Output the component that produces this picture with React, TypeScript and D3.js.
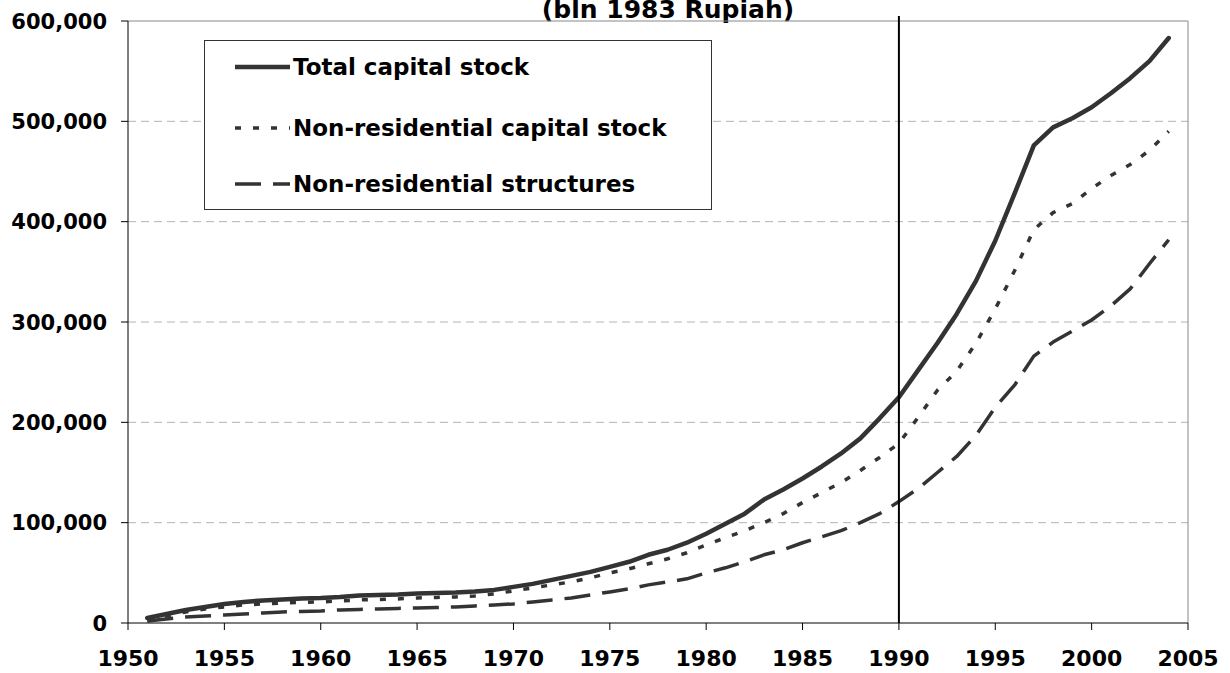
import * as d3 from 'd3'
import React from 'react'

// bln 1983 Rupiah, years 1951..2004
const years = d3.range(1951, 2005)
const totalStock = [
  5, 9, 13, 16, 19, 21, 22.5, 23.5, 24.5, 25,
  26, 27.5, 28, 28.5, 29.5, 30, 30.5, 31.5, 33, 36,
  39, 43, 47, 51, 56, 61, 68, 73, 80, 89,
  99, 109, 123, 133, 144, 156, 169, 184, 204, 225,
  252, 279, 308, 341, 381, 428, 476, 494, 503, 514,
  528, 543, 560, 583,
].map(v => v * 1000)
const nonResStock = [
  3, 7, 11, 14, 16, 18, 19, 20, 20.5, 21,
  22, 23, 23.5, 24, 25, 25.5, 26, 27, 29, 32,
  35, 38, 41, 45, 50, 54, 59, 64, 70, 78,
  85, 92, 100, 109, 120, 130, 140, 152, 165, 179,
  205, 232, 251, 279, 313, 351, 392, 409, 418, 433,
  446, 457, 471, 490,
].map(v => v * 1000)
const nonResStructures = [
  2, 4, 6, 7, 8, 9, 10, 11, 11.5, 12,
  13, 13.5, 14, 14.5, 15, 15.5, 16, 17, 18, 19,
  21, 23, 25, 28, 31, 34, 38, 41, 44, 50,
  55, 61, 68, 73, 80, 86, 92, 100, 109, 121,
  134, 150, 166, 187, 215, 237, 266, 280, 291, 302,
  316, 333, 358, 382,
].map(v => v * 1000)

const xTicks = d3.range(1950, 2006, 5)
const yTicks = [0, 100000, 200000, 300000, 400000, 500000, 600000]
const markerYear = 1990

const seriesNames = ['Total capital stock', 'Non-residential capital stock', 'Non-residential structures']
const seriesValues = [totalStock, nonResStock, nonResStructures]
const seriesDash = ['none', '6,12', '26,12']
const seriesWidth = [4.5, 3.5, 3.5]

const font = "'DejaVu Sans', Verdana, sans-serif"
const ink = '#333'

export default function App() {
  const
    W = 1230, H = 673,
    left = 128, right = 1188, top = 21, bottom = 623,
    x = d3.scaleLinear().domain([1950, 2005]).range([left, right]),
    y = d3.scaleLinear().domain([0, 600000]).range([bottom, top]),
    fmt = d3.format(','),
    line = d3.line<number>().x((_, i) => x(years[i])).y(d => y(d))

  const legendRows = [67, 128, 184]

  return (
    <svg width={W} height={H} style={{ position: 'absolute', left: 0, top: 0, background: '#fff' }} fontFamily={font}>
      <text x={668} y={18} textAnchor='middle' fontSize={25} fontWeight='bold'>(bln 1983 Rupiah)</text>

      {yTicks.slice(1, -1).map(t => (
        <line key={t} x1={left} x2={right} y1={y(t)} y2={y(t)} stroke='#b4b4b4' strokeWidth={1} strokeDasharray='8,5' />
      ))}
      <line x1={left} x2={right} y1={top} y2={top} stroke='#888' />
      <line x1={right} x2={right} y1={top} y2={bottom} stroke='#888' />

      {seriesValues.map((vals, i) => (
        <path key={i} d={line(vals) as string} fill='none' stroke={ink} strokeWidth={seriesWidth[i]}
          strokeDasharray={seriesDash[i]} strokeLinejoin='round' strokeLinecap={i === 0 ? 'round' : 'butt'} />
      ))}

      <line x1={x(markerYear)} x2={x(markerYear)} y1={16} y2={bottom} stroke='#000' strokeWidth={2} />

      <line x1={left} x2={left} y1={top} y2={bottom} stroke='#000' />
      <line x1={left} x2={right} y1={bottom} y2={bottom} stroke='#000' />
      {yTicks.map(t => (
        <g key={t}>
          <line x1={left - 7} x2={left} y1={y(t)} y2={y(t)} stroke='#000' />
          <text x={107} y={y(t)} dy='0.36em' textAnchor='end' fontSize={21} fontWeight='bold'>{fmt(t)}</text>
        </g>
      ))}
      {xTicks.map(t => (
        <g key={t}>
          <line x1={x(t)} x2={x(t)} y1={bottom} y2={bottom + 7} stroke='#000' />
          <text x={x(t)} y={666} textAnchor='middle' fontSize={22} fontWeight='bold'>{t}</text>
        </g>
      ))}

      <rect x={204.5} y={40.5} width={507} height={169} fill='#fff' stroke={ink} />
      {seriesNames.map((name, i) => (
        <g key={name}>
          <line x1={235} x2={290} y1={legendRows[i]} y2={legendRows[i]} stroke={ink}
            strokeWidth={seriesWidth[i]} strokeDasharray={seriesDash[i]} />
          <text x={293} y={legendRows[i]} dy='0.36em' fontSize={23} fontWeight='bold'>{name}</text>
        </g>
      ))}
    </svg>
  )
}
